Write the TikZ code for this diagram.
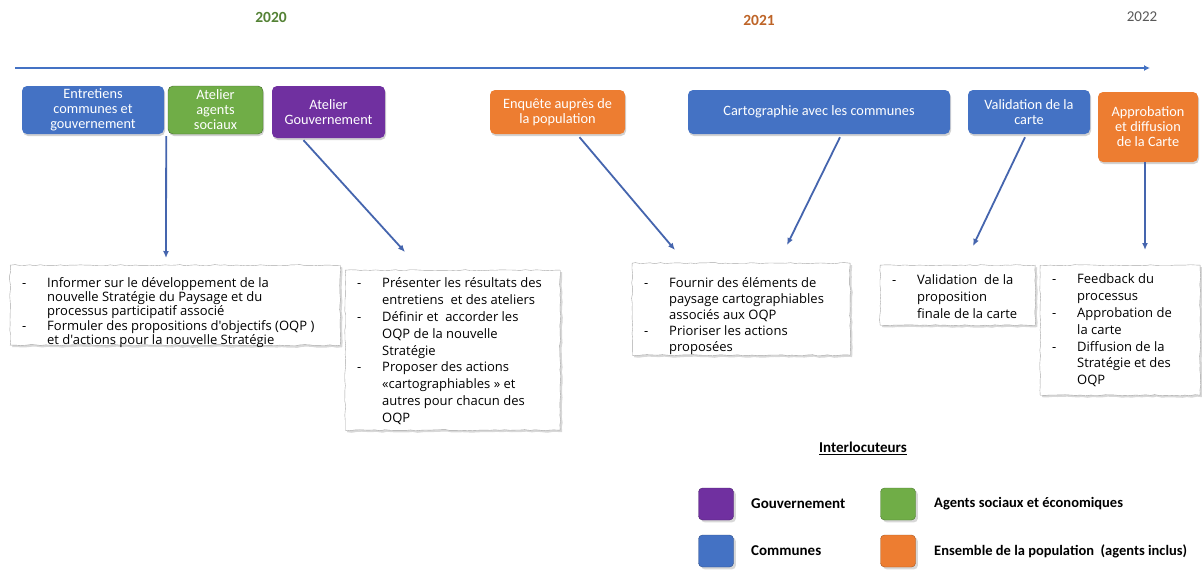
\documentclass[tikz,border=0pt]{standalone}
\usepackage{fontspec}
\setmainfont{Carlito}
\newfontfamily\notefont{Open Sans}
\usetikzlibrary{arrows.meta, positioning, shadows, decorations.pathmorphing}
\definecolor{gouvcol}{HTML}{7030A0}
\definecolor{communecol}{HTML}{4472C4}
\definecolor{agentcol}{HTML}{70AD47}
\definecolor{popcol}{HTML}{ED7D31}
\definecolor{linkcol}{HTML}{4565AE}
\newcommand{\notebox}[4]{\parbox[c][#2][t]{#1}{\vspace*{#3}\hspace*{12pt}\begin{tabular}[t]{@{}p{25pt}@{}l@{}}#4\end{tabular}}}

\begin{document}
\begin{tikzpicture}[
    x=1pt, y=-1pt,
    tag/.style={rounded corners=5pt, text=white, align=center, inner sep=2pt,
      font=\fontsize{14.3}{15}\selectfont,
      drop shadow={shadow xshift=1pt, shadow yshift=-2pt, opacity=0.35}},
    note/.style={draw=gray!70, fill=white, anchor=north west, inner sep=0pt,
      decorate, decoration={random steps, segment length=5pt, amplitude=0.6pt},
      font=\notefont\fontsize{13}{16.8}\selectfont,
      drop shadow={shadow xshift=2pt, shadow yshift=-2pt, fill=gray!60, opacity=0.5}},
    link/.style={-{Latex[length=7pt, width=6pt]}, draw=linkcol, line width=1.8pt},
    year/.style={font=\bfseries\fontsize{15.5}{17}\selectfont},
    key/.style={rounded corners=4pt, minimum width=35pt, minimum height=32pt,
      draw=#1!70!black, fill=#1, drop shadow={opacity=0.3}},
    keytext/.style={font=\bfseries\fontsize{15}{17}\selectfont, anchor=west}
  ]
  \useasboundingbox[fill=white] (0,0) rectangle (1202,570);
  \pgfmathsetseed{7}

  % years and time axis
  \node[year, text=agentcol!75!black] (y2020) at (271,17) {2020};
  \node[year, text=popcol!80!black] (y2021) at (759,20) {2021};
  \node[year, font=\fontsize{15}{17}\selectfont, text=black!65] (y2022) at (1142,17) {2022};
  \coordinate (tstart) at (15,68);
  \coordinate (tend) at (1150,68);
  \draw[-{Latex[length=6pt, width=6pt]}, draw=communecol, line width=2pt] (tstart) -- (tend);

  % steps
  \node[tag, fill=communecol, minimum width=142pt, minimum height=48pt] (ent) at (93,110) {Entretiens\\communes et\\gouvernement};
  \node[tag, fill=agentcol, draw=agentcol!60!black, minimum width=95pt, minimum height=48pt] (agt) at (215.5,110) {Atelier\\agents\\sociaux};
  \node[tag, fill=gouvcol, minimum width=113pt, minimum height=52pt] (gouv) at (328.5,112) {Atelier\\Gouvernement};
  \node[tag, fill=popcol, minimum width=135pt, minimum height=44pt] (enq) at (557.5,112) {Enquête auprès de\\la population};
  \node[tag, fill=communecol, minimum width=262pt, minimum height=44pt] (carto) at (819,112) {Cartographie avec les communes};
  \node[tag, fill=communecol, minimum width=122pt, minimum height=44pt] (valid) at (1029,112) {Validation de la\\carte};
  \node[tag, fill=popcol, minimum width=100pt, minimum height=70pt] (approb) at (1148,127) {Approbation\\et diffusion\\de la Carte};

  % notes
  \node[note, font=\notefont\fontsize{13}{14.3}\selectfont] (note1) at (10,265) {\notebox{330pt}{80pt}{12pt}{
    - & Informer sur le développement de la\\
      & nouvelle Stratégie du Paysage et du\\
      & processus participatif associé\\
    - & Formuler des propositions d'objectifs (OQP )\\
      & et d'actions pour la nouvelle Stratégie}};
  \node[note] (note2) at (345,270) {\notebox{215pt}{160pt}{6pt}{
    - & Présenter les résultats des\\
      & entretiens\ \ et des ateliers\\
    - & Définir et\ \ accorder les\\
      & OQP de la nouvelle\\
      & Stratégie\\
    - & Proposer des actions\\
      & «cartographiables » et\\
      & autres pour chacun des\\
      & OQP}};
  \node[note, font=\notefont\fontsize{13}{16}\selectfont] (note3) at (632,263) {\notebox{218pt}{92pt}{13pt}{
    - & Fournir des éléments de\\
      & paysage cartographiables\\
      & associés aux OQP\\
    - & Prioriser les actions\\
      & proposées}};
  \node[note] (note4) at (880,265) {\notebox{155pt}{60pt}{8pt}{
    - & Validation\ \ de la\\
      & proposition\\
      & finale de la carte}};
  \node[note] (note5) at (1040,265) {\notebox{160pt}{130pt}{7pt}{
    - & Feedback du\\
      & processus\\
    - & Approbation de\\
      & la carte\\
    - & Diffusion de la\\
      & Stratégie et des\\
      & OQP}};

  % links
  \draw[link] ([xshift=2pt, yshift=-2pt]ent.south east) -- ([xshift=156pt, yshift=7pt]note1.north west);
  \draw[link] ([xshift=-25pt, yshift=-2pt]gouv.south) -- ([xshift=60pt, yshift=18pt]note2.north west);
  \draw[link] ([xshift=22pt, yshift=-3pt]enq.south) -- ([xshift=43pt, yshift=13pt]note3.north west);
  \draw[link] ([xshift=21pt, yshift=-3pt]carto.south) -- ([xshift=155pt, yshift=18pt]note3.north west);
  \draw[link] ([xshift=-4pt, yshift=-3pt]valid.south) -- ([xshift=93pt, yshift=19pt]note4.north west);
  \draw[link] ([xshift=-3pt]approb.south) -- ([xshift=105pt, yshift=15pt]note5.north west);

  % legend
  \node[font=\bfseries\fontsize{15}{17}\selectfont] (ttl) at (863,448) {\underline{Interlocuteurs}};
  \node[key=gouvcol] (kgouv) at (716,504) {};
  \node[keytext, right=14pt of kgouv] (lgouv) {Gouvernement};
  \node[key=agentcol] (kagent) at (898,504) {};
  \node[keytext, right=15pt of kagent, font=\bfseries\fontsize{14.5}{17}\selectfont] (lagent) {Agents sociaux et économiques};
  \node[key=communecol] (kcomm) at (716,551) {};
  \node[keytext, right=14pt of kcomm] (lcomm) {Communes};
  \node[key=popcol] (kpop) at (898,551) {};
  \node[keytext, right=15pt of kpop, font=\bfseries\fontsize{14.5}{17}\selectfont] (lpop) {Ensemble de la population\ \ (agents inclus)};
\end{tikzpicture}
\end{document}
